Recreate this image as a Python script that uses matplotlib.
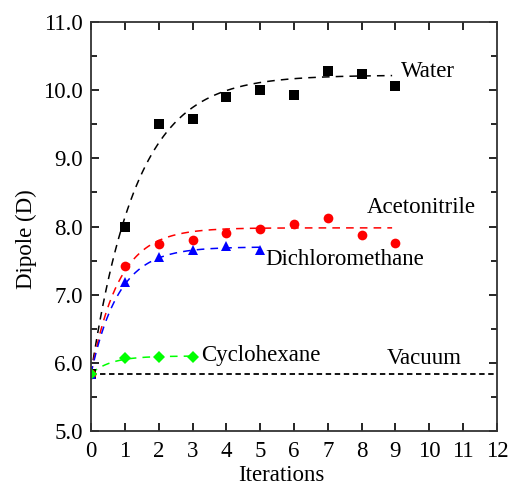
import numpy as np
import matplotlib
matplotlib.use("Agg")
import matplotlib.pyplot as plt
from matplotlib.ticker import MultipleLocator, FormatStrFormatter

plt.rcParams['font.family'] = ['Liberation Serif', 'DejaVu Serif']

# Data
vacuum = 5.84
water_x = [0, 1, 2, 3, 4, 5, 6, 7, 8, 9]
water_y = [5.84, 8.00, 9.50, 9.58, 9.90, 10.00, 9.93, 10.28, 10.23, 10.06]
acn_x = [0, 1, 2, 3, 4, 5, 6, 7, 8, 9]
acn_y = [5.84, 7.42, 7.75, 7.80, 7.90, 7.97, 8.03, 8.12, 7.88, 7.76]
dcm_x = [0, 1, 2, 3, 4, 5]
dcm_y = [5.84, 7.19, 7.55, 7.65, 7.71, 7.66]
chx_x = [0, 1, 2, 3]
chx_y = [5.84, 6.07, 6.09, 6.09]

# Exponential saturation fit parameters (plateau, time constant, end x)
fit_plateau = [10.22, 7.98, 7.70, 6.10]
fit_tau = [1.35, 0.82, 0.82, 0.60]
fit_end = [8.9, 8.9, 5.0, 3.0]

labels = ['Water', 'Acetonitrile', 'Dichloromethane', 'Cyclohexane']
colors = ['black', '#ff0000', '#0000ff', '#00ff00']
markers = ['s', 'o', '^', 'D']
msizes = [7, 7, 7, 6]

fig = plt.figure(figsize=(5.08, 4.86), dpi=100)
ax = fig.add_axes([91/508, 1-431/486, (497-91)/508, (431-22)/486])

# vacuum line
ax.plot([0, 12], [vacuum, vacuum], color='black', ls=(0, (3, 2)), lw=1.3)

xs = [water_x, acn_x, dcm_x, chx_x]
ys = [water_y, acn_y, dcm_y, chx_y]
for i in range(4):
    xf = np.linspace(0, fit_end[i], 200)
    yf = fit_plateau[i] - (fit_plateau[i] - vacuum) * np.exp(-xf / fit_tau[i])
    ax.plot(xf, yf, color=colors[i], ls=(0, (5, 4)), lw=1.1)
for i in range(4):
    ax.plot(xs[i], ys[i], ls='none', marker=markers[i], color=colors[i],
            markersize=msizes[i], markeredgewidth=0)

fs_lab = 16.5
ax.text(9.17, 10.28, 'Water', fontsize=fs_lab, va='center', ha='left')
ax.text(8.14, 8.28, 'Acetonitrile', fontsize=fs_lab, va='center', ha='left')
ax.text(5.15, 7.52, 'Dichloromethane', fontsize=fs_lab, va='center', ha='left')
ax.text(3.25, 6.11, 'Cyclohexane', fontsize=fs_lab, va='center', ha='left')
ax.text(8.73, 6.07, 'Vacuum', fontsize=fs_lab, va='center', ha='left')

ax.set_xlim(0, 12)
ax.set_ylim(5, 11)
ax.xaxis.set_major_locator(MultipleLocator(1))
ax.yaxis.set_major_locator(MultipleLocator(1))
ax.yaxis.set_minor_locator(MultipleLocator(0.5))
ax.yaxis.set_major_formatter(FormatStrFormatter('%.1f'))
ax.tick_params(which='both', direction='in', top=True, right=True, labelsize=16.5, width=1.2)
ax.tick_params(which='major', length=6)
ax.tick_params(which='minor', length=4)
ax.tick_params(axis='x', pad=7)
ax.tick_params(axis='y', pad=6)
for s in ax.spines.values():
    s.set_linewidth(1.3)
    s.set_color('#333333')

ax.set_xlabel('Iterations', fontsize=16.5, labelpad=2)
ax.set_ylabel('Dipole (D)', fontsize=16.5, labelpad=4)
ax.xaxis.label.set_x(0.470)
ax.yaxis.label.set_y(0.469)

fig.savefig('out.png', dpi=100)
